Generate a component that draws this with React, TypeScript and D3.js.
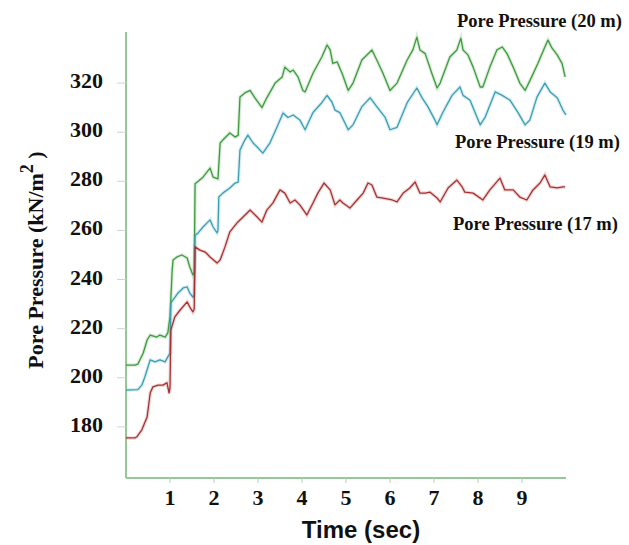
import React from 'react'
import * as d3 from 'd3'

// [time (s), pore pressure (kN/m2)]
const depth20: [number, number][] = [
  [0, 205.2], [0.2, 205.2], [0.27, 205.6], [0.39, 210], [0.48, 215.4], [0.55, 217.4], [0.7, 216.6],
  [0.77, 217.4], [0.89, 216.6], [0.95, 218.3], [1.0, 224.8], [1.05, 243.9], [1.07, 248], [1.16, 249.2],
  [1.27, 250], [1.39, 248.8], [1.45, 245.1], [1.52, 241.9], [1.55, 243], [1.57, 279], [1.64, 280],
  [1.75, 281.7], [1.91, 285.4], [1.98, 281.7], [2.09, 281], [2.14, 295.6], [2.2, 296.8], [2.36, 299.7],
  [2.48, 298], [2.55, 298.8], [2.59, 314.3], [2.7, 316], [2.82, 317], [2.93, 314], [3.09, 310],
  [3.2, 314], [3.39, 320], [3.55, 322.5], [3.61, 326.5], [3.73, 324.5], [3.8, 325.3], [3.91, 322.5],
  [4.02, 317], [4.07, 316.4], [4.25, 324], [4.45, 330.6], [4.57, 335.5], [4.64, 333.5], [4.7, 328],
  [4.8, 328.6], [4.91, 324], [5.05, 317], [5.16, 320], [5.36, 329.4], [5.59, 333.5], [5.7, 329.4],
  [5.84, 324], [6.0, 317], [6.16, 320], [6.39, 329.4], [6.52, 333.5], [6.61, 338.7], [6.68, 333.5],
  [6.8, 332], [6.95, 324], [7.07, 318], [7.14, 320], [7.36, 330.6], [7.52, 333.5], [7.61, 338.3],
  [7.66, 333.5], [7.77, 331.5], [7.89, 326.5], [8.05, 318.4], [8.11, 318.4], [8.27, 326.5],
  [8.43, 333.5], [8.55, 334.7], [8.66, 332], [8.8, 326.5], [8.95, 320], [9.07, 317], [9.18, 321],
  [9.36, 328], [9.52, 334.7], [9.59, 337.5], [9.68, 334.3], [9.8, 331.5], [9.91, 328], [9.98, 322.5],
]

const depth19: [number, number][] = [
  [0, 195], [0.27, 195.2], [0.36, 197], [0.43, 200.4], [0.55, 207.3], [0.66, 206.5], [0.77, 207.3],
  [0.89, 206.5], [0.95, 208.5], [1.0, 210], [1.02, 230.5], [1.07, 231.7], [1.18, 234.5], [1.3, 236.6],
  [1.39, 237], [1.45, 234.5], [1.52, 232.9], [1.55, 233.5], [1.57, 258], [1.64, 259], [1.75, 261.4],
  [1.91, 264.3], [1.98, 261.4], [2.07, 259], [2.09, 260], [2.11, 273.6], [2.2, 275.2], [2.36, 277.3],
  [2.48, 279.3], [2.55, 279.7], [2.59, 292.7], [2.7, 296.8], [2.77, 298.8], [2.89, 295.6], [2.98, 294],
  [3.11, 291.5], [3.27, 295.6], [3.43, 302], [3.57, 307.8], [3.68, 306], [3.8, 307], [3.95, 305],
  [4.07, 301], [4.25, 308], [4.45, 312], [4.57, 315], [4.68, 312.3], [4.75, 309], [4.86, 308],
  [5.05, 301], [5.16, 303], [5.36, 310.4], [5.55, 314], [5.7, 310.4], [5.89, 306], [6.0, 301],
  [6.16, 302], [6.39, 312], [6.61, 318], [6.73, 314], [6.86, 310.4], [7.02, 305], [7.07, 303],
  [7.2, 308], [7.41, 315], [7.59, 318.4], [7.66, 315], [7.82, 313], [7.98, 306], [8.05, 303],
  [8.16, 306], [8.39, 316.4], [8.55, 315], [8.73, 313], [8.91, 308], [9.07, 303], [9.18, 305],
  [9.34, 314.3], [9.52, 320], [9.64, 316.4], [9.8, 314], [9.93, 309], [10.0, 307],
]

const depth17: [number, number][] = [
  [0, 175.5], [0.2, 175.5], [0.25, 176], [0.36, 178.8], [0.48, 184], [0.55, 193.8], [0.61, 196.3],
  [0.73, 197], [0.84, 197], [0.93, 198], [0.98, 193.8], [1.0, 196], [1.02, 219.5], [1.11, 224.8],
  [1.23, 227.6], [1.39, 230.9], [1.45, 228.8], [1.52, 226.8], [1.55, 228], [1.57, 253.3], [1.68, 252],
  [1.8, 251.2], [1.91, 249.2], [2.07, 246.7], [2.14, 248], [2.25, 253.3], [2.36, 259.4], [2.52, 263],
  [2.66, 265.5], [2.82, 268.3], [2.98, 265.5], [3.09, 263.4], [3.2, 268.3], [3.34, 271.2], [3.5, 276.5],
  [3.61, 275.2], [3.73, 271.2], [3.84, 272.4], [3.95, 270.4], [4.11, 266.3], [4.25, 271.2],
  [4.36, 275.2], [4.5, 279.3], [4.64, 276.5], [4.75, 270.4], [4.86, 272.4], [4.93, 271.2],
  [5.09, 269.1], [5.25, 272.4], [5.39, 275.2], [5.5, 279.3], [5.59, 278.5], [5.7, 273.6],
  [5.84, 273.2], [6.05, 272.4], [6.16, 271.6], [6.3, 275.2], [6.45, 277.3], [6.57, 279.7],
  [6.68, 275.2], [6.8, 275.2], [6.91, 275.6], [7.07, 273.2], [7.14, 271.6], [7.32, 277.3],
  [7.52, 280.5], [7.64, 277.7], [7.7, 275.6], [7.89, 275.2], [8.11, 272.4], [8.27, 276.5],
  [8.5, 281.3], [8.61, 276.5], [8.8, 276.5], [8.95, 273.6], [9.11, 272.4], [9.25, 276.5],
  [9.41, 279.3], [9.52, 282.6], [9.64, 277.7], [9.8, 277.3], [9.93, 277.7], [9.98, 277.7],
]

const xTicks = [1, 2, 3, 4, 5, 6, 7, 8, 9]
const yTicks = [180, 200, 220, 240, 260, 280, 300, 320]

const seriesList = [
  { name: 'Pore Pressure (20 m)', data: depth20, color: '#3d9c3d', labelX: 457, labelY: 27 },
  { name: 'Pore Pressure (19 m)', data: depth19, color: '#3a9fb6', labelX: 455, labelY: 148 },
  { name: 'Pore Pressure (17 m)', data: depth17, color: '#a83030', labelX: 453, labelY: 230 },
]

export default function App() {
  const width = 629
  const height = 545
  const left = 126, right = 566, top = 32, bottom = 478

  const x = d3.scaleLinear().domain([0, 10]).range([left, right])
  const y = d3.scaleLinear().domain([159.2, 340.8]).range([bottom, top])
  const line = d3.line<[number, number]>().x(d => x(d[0])).y(d => y(d[1]))

  const serif = '"Liberation Serif", "Times New Roman", serif'
  const axisColor = '#96c896'

  return (
    <svg width={width} height={height} style={{ position: 'absolute', left: 0, top: 0, background: '#fff' }}>
      {/* axes */}
      <line x1={left} x2={left} y1={top} y2={bottom} stroke={axisColor} strokeWidth={2} />
      <line x1={left} x2={right} y1={bottom} y2={bottom} stroke={axisColor} strokeWidth={2} />

      {yTicks.map(t => (
        <g key={t}>
          <line x1={left - 9} x2={left} y1={y(t)} y2={y(t)} stroke="#c8d8c8" strokeWidth={1} />
          <text x={103} y={y(t) + 5} textAnchor="end" fontFamily={serif} fontWeight="bold" fontSize={22} fill="#111">{t}</text>
        </g>
      ))}

      {xTicks.map(t => (
        <g key={t}>
          <line x1={x(t)} x2={x(t)} y1={bottom} y2={bottom + 5} stroke="#b8ccb8" strokeWidth={1} />
          <text x={x(t)} y={505} textAnchor="middle" fontFamily={serif} fontWeight="bold" fontSize={22} fill="#111">{t}</text>
        </g>
      ))}

      {/* series */}
      {seriesList.map(s => (
        <g key={s.name}>
          <path d={line(s.data) || ''} fill="none" stroke={s.color} strokeOpacity={0.2} strokeWidth={3.5} />
          <path d={line(s.data) || ''} fill="none" stroke={s.color} strokeWidth={1.3} strokeLinejoin="round" />
          <text x={s.labelX} y={s.labelY} fontFamily={serif} fontWeight="bold" fontSize={18.5} fill="#111">{s.name}</text>
        </g>
      ))}

      {/* axis titles */}
      <text x={361} y={538} textAnchor="middle" fontFamily='"Liberation Sans", Arial, sans-serif' fontWeight="bold" fontSize={24} fill="#111">Time (sec)</text>
      <text transform="translate(43,260) rotate(-90)" textAnchor="middle" fontFamily={serif} fontWeight="bold" fontSize={22} fill="#111">
        Pore Pressure (kN/m<tspan fontSize={18} dy={-10}>2</tspan><tspan dy={10}> )</tspan>
      </text>
    </svg>
  )
}
